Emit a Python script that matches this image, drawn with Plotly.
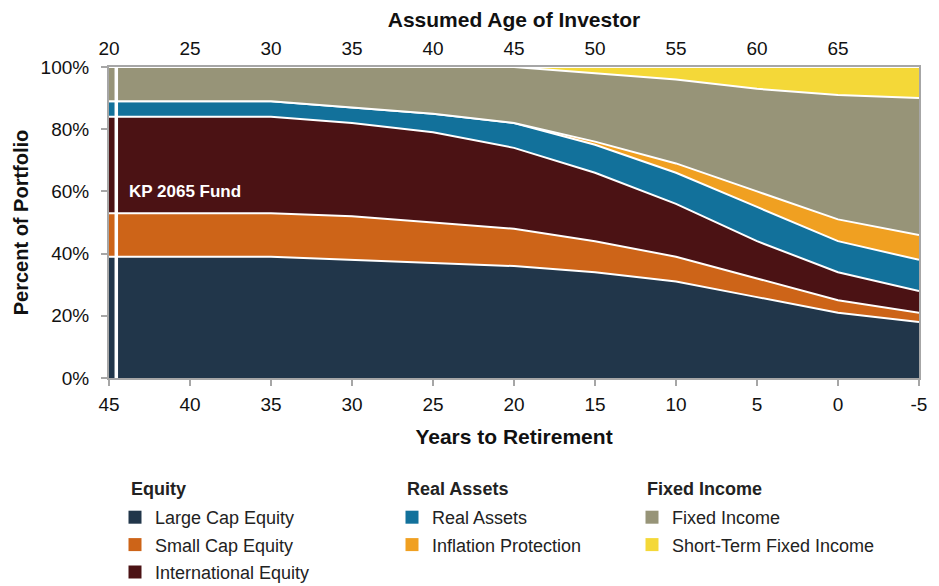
import plotly.graph_objects as go

years = [45, 40, 35, 30, 25, 20, 15, 10, 5, 0, -5]
year_labels = ["45", "40", "35", "30", "25", "20", "15", "10", "5", "0", "-5"]
ages = [20, 25, 30, 35, 40, 45, 50, 55, 60, 65]

large_cap = [39, 39, 39, 38, 37, 36, 34, 31, 26, 21, 18]
small_cap = [14, 14, 14, 14, 13, 12, 10, 8, 6, 4, 3]
international = [31, 31, 31, 30, 29, 26, 22, 17, 12, 9, 7]
real_assets = [5, 5, 5, 5, 6, 8, 9, 10, 11, 10, 10]
inflation = [0, 0, 0, 0, 0, 0, 1, 3, 5, 7, 8]
fixed_income = [11, 11, 11, 13, 15, 18, 22, 27, 33, 40, 44]
short_term = [0, 0, 0, 0, 0, 0, 2, 4, 7, 9, 10]

series = [
    ("Large Cap Equity", large_cap, "#21364A", "legend"),
    ("Small Cap Equity", small_cap, "#CD6418", "legend"),
    ("International Equity", international, "#4B1214", "legend"),
    ("Real Assets", real_assets, "#12719B", "legend2"),
    ("Inflation Protection", inflation, "#F0A021", "legend2"),
    ("Fixed Income", fixed_income, "#979478", "legend3"),
    ("Short-Term Fixed Income", short_term, "#F4D838", "legend3"),
]

fig = go.Figure()
for name, vals, color, lg in series:
    fig.add_trace(go.Scatter(
        x=years, y=vals, stackgroup="one", mode="lines",
        line=dict(color="white", width=2), fillcolor=color,
        name=name, showlegend=False, hoverinfo="skip"))
for i, (name, vals, color, lg) in enumerate(series):
    fig.add_trace(go.Scatter(
        x=[None], y=[None], mode="markers",
        marker=dict(symbol="square", size=13, color=color),
        name=name, legend=lg, legendgroup=f"g{i}", showlegend=True))

# invisible trace for top age axis
fig.add_trace(go.Scatter(x=[20, 70], y=[0, 0], xaxis="x2", mode="lines",
                         line=dict(color="rgba(0,0,0,0)"), showlegend=False,
                         hoverinfo="skip"))

fig.add_shape(type="line", x0=44.55, x1=44.55, y0=0, y1=100, xref="x", yref="y",
              line=dict(color="white", width=3.5), layer="above")

fig.add_annotation(x=43.9, y=60, xref="x", yref="y", text="<b>KP 2065 Fund</b>",
                   showarrow=False, xanchor="left", yanchor="middle",
                   font=dict(color="white", size=17))

headers = [("Equity", 129), ("Real Assets", 405), ("Fixed Income", 645)]
for text, px in headers:
    fig.add_annotation(x=(px - 109) / 810, y=(378 - 489) / 311, xref="paper", yref="paper",
                       text=f"<b>{text}</b>", showarrow=False, xanchor="left",
                       yanchor="middle", font=dict(size=18, color="#222"))

font = "Liberation Sans, Arial, sans-serif"
axis_line = "#A6A6A6"
legend_common = dict(font=dict(size=18, color="#222"), tracegroupgap=1,
                     traceorder="grouped", yanchor="top", xanchor="left",
                     bgcolor="rgba(0,0,0,0)")

fig.update_layout(
    width=939, height=600,
    margin=dict(l=101, r=28, t=59, b=230),
    paper_bgcolor="white", plot_bgcolor="white",
    font=dict(family=font, size=19, color="#111"),
    xaxis=dict(range=[45, -5], tickvals=years, ticktext=year_labels, ticks="outside",
               ticklen=6, tickcolor=axis_line, tickwidth=1.5, showline=True,
               linecolor=axis_line, linewidth=2, mirror=True, showgrid=False,
               zeroline=False, automargin=False, ticklabelstandoff=2,
               title=dict(text="<b>Years to Retirement</b>", font=dict(size=21), standoff=16),
               tickfont=dict(size=19)),
    xaxis2=dict(range=[20, 70], overlaying="x", side="top", tickvals=ages,
                showline=False, showgrid=False, zeroline=False, ticks="",
                automargin=False, ticklabelstandoff=7,
                title=dict(text="<b>Assumed Age of Investor</b>", font=dict(size=21), standoff=5),
                tickfont=dict(size=19)),
    yaxis=dict(range=[0, 100], tickvals=[0, 20, 40, 60, 80, 100],
               ticktext=["0%", "20%", "40%", "60%", "80%", "100%"],
               ticks="outside", ticklen=6, tickcolor=axis_line, tickwidth=1.5,
               showline=True, linecolor=axis_line, linewidth=2, mirror=True,
               showgrid=False, zeroline=False, automargin=False, ticklabelstandoff=8,
               title=dict(text="<b>Percent of Portfolio</b>", font=dict(size=20), standoff=7),
               tickfont=dict(size=19)),
    legend=dict(x=(115 - 109) / 810, y=(378 - 499) / 311, **legend_common),
    legend2=dict(x=(392 - 109) / 810, y=(378 - 499) / 311, **legend_common),
    legend3=dict(x=(632 - 109) / 810, y=(378 - 499) / 311, **legend_common),
)

fig.write_html("out.html")
